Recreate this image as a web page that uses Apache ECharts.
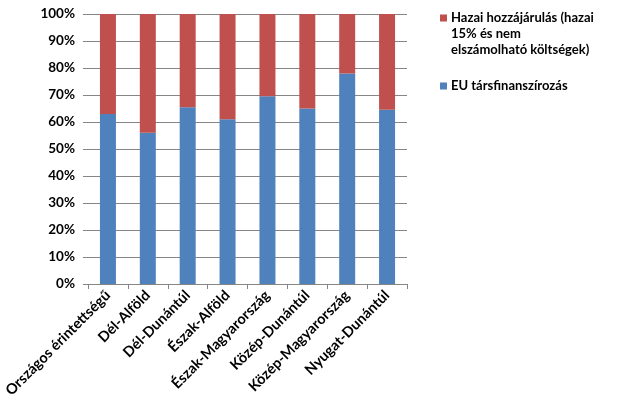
<!DOCTYPE html>
<html lang="hu">
<head>
    <meta charset="utf-8">
    <title>Finanszírozás</title>
    <script src="https://cdn.jsdelivr.net/npm/echarts@6/dist/echarts.min.js"></script>
    <style>
        html, body { margin: 0; padding: 0; background: #fff; }
        #chart { width: 626px; height: 417px; }
    </style>
</head>
<body>
<div id="chart"></div>
<script>
    var regions = ['Országos érintettségű', 'Dél-Alföld', 'Dél-Dunántúl', 'Észak-Alföld',
        'Észak-Magyarország', 'Közép-Dunántúl', 'Közép-Magyarország', 'Nyugat-Dunántúl'];
    var euShare = [63, 56, 65.5, 61, 69.5, 65, 78, 64.5];
    var hazaiShare = [37, 44, 34.5, 39, 30.5, 35, 22, 35.5];
    var euName = 'EU társfinanszírozás';
    var hazaiName = 'Hazai hozzájárulás (hazai\n15% és nem\nelszámolható költségek)';

    var font = 'Lato, "Open Sans", sans-serif';
    var myChart = echarts.init(document.getElementById('chart'));
    var option = {
        animation: false,
        textStyle: { fontFamily: font },
        grid: { left: 88, right: 219, top: 14, bottom: 133, containLabel: false },
        legend: [
            {
                data: [{ name: hazaiName, icon: 'path://M0,4.5h7v7h-7z M0,0h0.05v0.05h-0.05z M0,47.95h0.05v0.05h-0.05z' }],
                orient: 'vertical', left: 435, top: 5,
                itemWidth: 7, itemHeight: 48, itemGap: 0,
                textStyle: { fontFamily: font, fontWeight: 'bold', fontSize: 13, color: '#000', lineHeight: 16, padding: [0, 0, 0, -1] }
            },
            {
                data: [{ name: euName, icon: 'rect' }],
                orient: 'vertical', left: 435, top: 73,
                itemWidth: 7, itemHeight: 7, itemGap: 0,
                textStyle: { fontFamily: font, fontWeight: 'bold', fontSize: 13, color: '#000', lineHeight: 16, padding: [0, 0, 0, -1] }
            }
        ],
        xAxis: {
            type: 'category',
            data: regions,
            boundaryGap: true,
            axisLine: { lineStyle: { color: '#868686', width: 1 } },
            axisTick: { show: true, length: 5, lineStyle: { color: '#868686' } },
            axisLabel: {
                rotate: 45, margin: 9, interval: 0,
                fontFamily: font, fontWeight: 'bold', fontSize: 14.5, color: '#000'
            }
        },
        yAxis: {
            type: 'value',
            min: 0, max: 100, interval: 10,
            axisLine: { show: false },
            axisTick: { show: true, length: 5, lineStyle: { color: '#868686' } },
            splitLine: { lineStyle: { color: '#868686', width: 1 } },
            axisLabel: {
                formatter: '{value}%', margin: 13,
                fontFamily: font, fontWeight: 'bold', fontSize: 13.5, color: '#000'
            }
        },
        series: [
            {
                name: euName, type: 'bar', stack: 'total', barWidth: 16,
                itemStyle: { color: '#4F81BD' },
                data: euShare
            },
            {
                name: hazaiName, type: 'bar', stack: 'total', barWidth: 16,
                itemStyle: { color: '#C0504D' },
                data: hazaiShare
            }
        ]
    };
    myChart.setOption(option);
</script>
</body>
</html>
